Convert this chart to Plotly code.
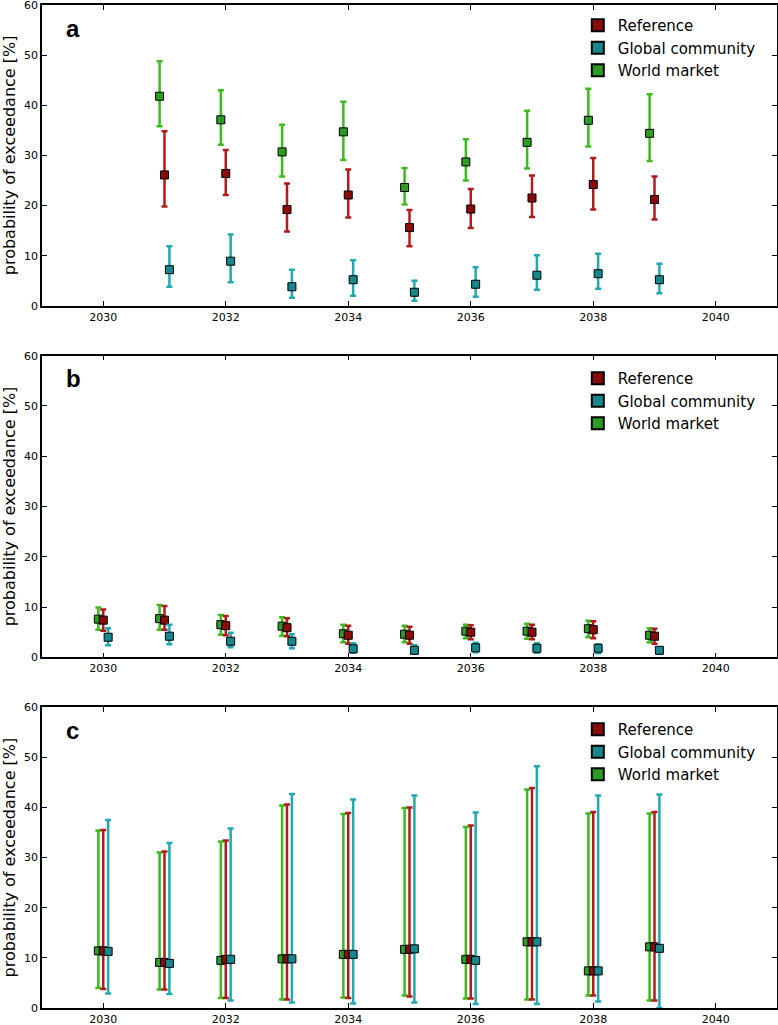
import plotly.graph_objects as go
from plotly.subplots import make_subplots

# Values (probability of exceedance, %)
years_a = [2031, 2032, 2033, 2034, 2035, 2036, 2037, 2038, 2039]
years_bc = [2030, 2031, 2032, 2033, 2034, 2035, 2036, 2037, 2038, 2039]

# panel a
a_ref = [26.1, 26.4, 19.2, 22.1, 15.6, 19.3, 21.5, 24.2, 21.2]
a_ref_hi = [34.8, 31.1, 24.4, 27.2, 19.1, 23.3, 26.0, 29.5, 25.8]
a_ref_lo = [19.8, 22.1, 14.8, 17.6, 11.9, 15.5, 17.7, 19.2, 17.2]
a_glob = [7.2, 8.9, 3.8, 5.2, 2.7, 4.3, 6.1, 6.4, 5.2]
a_glob_hi = [11.9, 14.2, 7.2, 9.1, 5.0, 7.7, 10.1, 10.4, 8.4]
a_glob_lo = [3.8, 4.7, 1.6, 2.0, 1.0, 1.8, 3.2, 3.4, 2.5]
a_world = [41.8, 37.1, 30.7, 34.7, 23.6, 28.7, 32.6, 37.0, 34.4]
a_world_hi = [48.8, 43.0, 36.1, 40.7, 27.5, 33.2, 38.9, 43.3, 42.2]
a_world_lo = [35.8, 32.1, 25.8, 29.1, 20.2, 25.0, 27.4, 31.8, 28.9]

# panel b
b_ref = [7.4, 7.4, 6.3, 5.9, 4.4, 4.4, 5.0, 5.0, 5.5, 4.2]
b_ref_hi = [9.5, 10.2, 8.2, 7.8, 6.3, 6.1, 6.4, 6.5, 7.2, 5.7]
b_ref_lo = [5.3, 5.5, 4.4, 4.2, 2.7, 2.7, 3.6, 3.6, 3.8, 2.7]
b_glob = [4.0, 4.2, 3.2, 3.2, 1.7, 1.4, 1.9, 1.8, 1.8, 1.4]
b_glob_hi = [5.8, 6.5, 4.9, 4.6, 2.8, 2.4, 2.9, 2.8, 2.6, 2.0]
b_glob_lo = [2.4, 2.6, 2.0, 1.8, 0.9, 0.7, 1.0, 0.9, 0.8, 0.7]
b_world = [7.6, 7.7, 6.5, 6.2, 4.7, 4.6, 5.2, 5.2, 5.7, 4.4]
b_world_hi = [9.9, 10.4, 8.4, 8.0, 6.5, 6.3, 6.5, 6.7, 7.3, 5.8]
b_world_lo = [5.5, 5.5, 4.5, 4.3, 3.0, 3.0, 3.8, 3.7, 4.0, 3.0]

# panel c
c_ref = [11.4, 9.1, 9.7, 9.8, 10.7, 11.7, 9.7, 13.2, 7.4, 12.2]
c_ref_hi = [35.5, 31.2, 33.4, 40.6, 38.9, 40.0, 36.4, 43.9, 39.1, 39.1]
c_ref_lo = [3.8, 3.7, 2.0, 1.7, 2.0, 2.3, 1.9, 1.7, 2.5, 1.5]
c_glob = [11.3, 8.9, 9.7, 9.8, 10.7, 11.8, 9.5, 13.2, 7.4, 11.9]
c_glob_hi = [37.5, 32.9, 35.8, 42.7, 41.6, 42.4, 39.0, 48.2, 42.4, 42.6]
c_glob_lo = [2.9, 2.8, 1.5, 1.1, 0.9, 1.1, 0.8, 0.8, 1.3, 0.0]
c_world = [11.4, 9.1, 9.5, 9.8, 10.7, 11.7, 9.7, 13.2, 7.4, 12.2]
c_world_hi = [35.4, 31.0, 33.2, 40.4, 38.7, 39.9, 36.1, 43.6, 38.8, 38.8]
c_world_lo = [4.0, 3.7, 2.0, 1.7, 2.1, 2.5, 1.9, 1.7, 2.5, 1.5]

series_names = ["Reference", "Global community", "World market"]
panel_labels = ["a", "b", "c"]
x_ticks = [2030, 2032, 2034, 2036, 2038, 2040]
y_ticks = [0, 10, 20, 30, 40, 50, 60]

# styles: marker colour, error bar colour, x shift
styles = {
    "Reference": ("#8a0b0b", "#b01c1c", 0.0),
    "Global community": ("#16878c", "#22a8b0", 0.08),
    "World market": ("#2c9c25", "#3cbb1c", -0.08),
}

panels = [
    (years_a, [(a_ref, a_ref_hi, a_ref_lo), (a_glob, a_glob_hi, a_glob_lo),
               (a_world, a_world_hi, a_world_lo)]),
    (years_bc, [(b_ref, b_ref_hi, b_ref_lo), (b_glob, b_glob_hi, b_glob_lo),
                (b_world, b_world_hi, b_world_lo)]),
    (years_bc, [(c_ref, c_ref_hi, c_ref_lo), (c_glob, c_glob_hi, c_glob_lo),
                (c_world, c_world_hi, c_world_lo)]),
]

fig = make_subplots(rows=3, cols=1)
legend_keys = ["legend", "legend2", "legend3"]

# draw world market first, then reference, then global community on top
draw_order = [2, 0, 1]
for p, (years, data) in enumerate(panels):
    for i in draw_order:
        name = series_names[i]
        vals, hi, lo = data[i]
        mcol, ecol, dx = styles[name]
        fig.add_trace(go.Scatter(
            x=[y + dx for y in years],
            y=vals,
            mode="markers",
            name=name,
            legend=legend_keys[p],
            legendrank=i,
            marker=dict(symbol="square", size=8, color=mcol,
                        line=dict(color="black", width=1)),
            error_y=dict(type="data", symmetric=False,
                         array=[h - v for h, v in zip(hi, vals)],
                         arrayminus=[v - l for v, l in zip(vals, lo)],
                         color=ecol, thickness=2.5, width=3),
        ), row=p + 1, col=1)

domains = [[0.7001, 1.0], [0.3496, 0.6504], [0.0, 0.2999]]
legend_tops = [0.996, 0.644, 0.294]

axis_font = dict(family="DejaVu Sans", size=11, color="black")
for p in range(3):
    fig.update_xaxes(range=[2029, 2041], tickvals=x_ticks,
                     ticks="inside", ticklen=5, tickcolor="black",
                     showline=True, linecolor="black", linewidth=1.5,
                     mirror="ticks", showgrid=False, zeroline=False,
                     automargin=False, ticklabelstandoff=0,
                     ticklabeloverflow="allow",
                     tickfont=axis_font, row=p + 1, col=1)
    fig.update_yaxes(range=[0, 60], tickvals=y_ticks, domain=domains[p],
                     ticks="inside", ticklen=5, tickcolor="black",
                     showline=True, linecolor="black", linewidth=1.5,
                     mirror="ticks", showgrid=False, zeroline=False,
                     automargin=False, ticklabeloverflow="allow",
                     tickfont=axis_font,
                     title=dict(text="probability of exceedance [%]",
                                font=dict(family="DejaVu Sans", size=16,
                                          color="black"),
                                standoff=4),
                     row=p + 1, col=1)
    xref = "x domain" if p == 0 else "x%d domain" % (p + 1)
    yref = "y domain" if p == 0 else "y%d domain" % (p + 1)
    fig.add_annotation(text="<b>%s</b>" % panel_labels[p], xref=xref, yref=yref,
                       x=0.03, y=0.975, xanchor="left", yanchor="top",
                       showarrow=False,
                       font=dict(family="Liberation Sans", size=24, color="black"))

legend_style = dict(x=0.729, xanchor="left", yanchor="top",
                    bgcolor="rgba(0,0,0,0)", borderwidth=0,
                    font=dict(family="DejaVu Sans", size=15, color="black"),
                    itemsizing="constant", tracegroupgap=0)
fig.update_layout(
    width=778, height=1025,
    margin=dict(l=42, r=1, t=5, b=17, autoexpand=False),
    paper_bgcolor="white", plot_bgcolor="white",
    showlegend=True,
    legend=dict(y=legend_tops[0], **legend_style),
    legend2=dict(y=legend_tops[1], **legend_style),
    legend3=dict(y=legend_tops[2], **legend_style),
)

# the page body has a default margin; remove it so the figure fills the window
fig.write_html("out.html", config={"displayModeBar": False},
               post_script="document.body.style.margin='0px';")
